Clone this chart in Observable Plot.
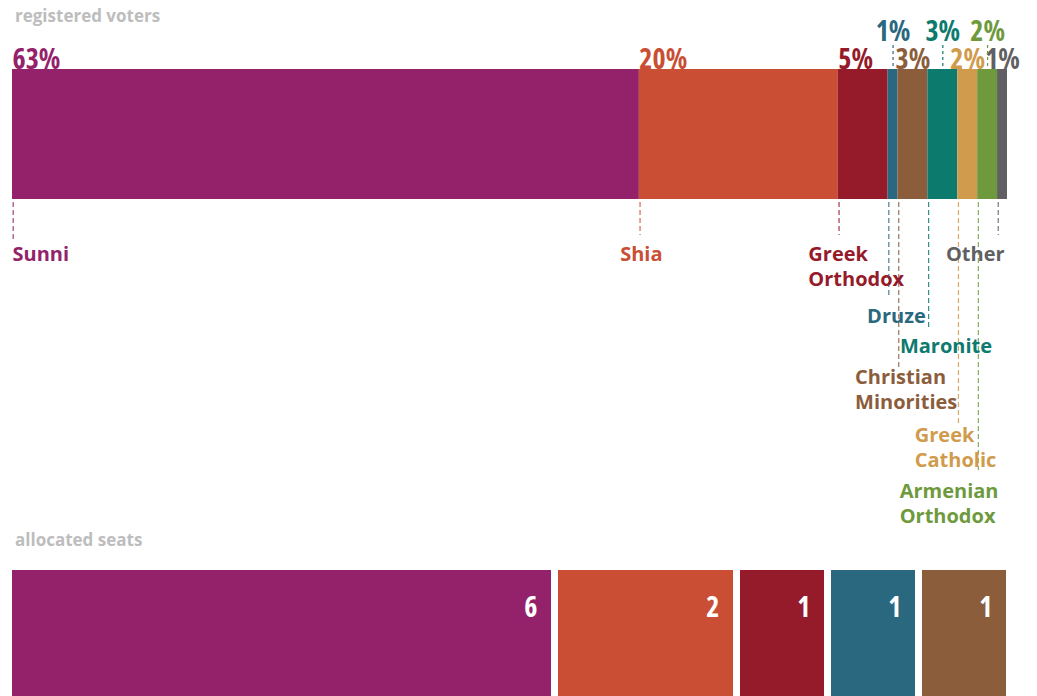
<!DOCTYPE html>
<html><head><meta charset="utf-8">
<script src="https://cdn.jsdelivr.net/npm/d3@7"></script>
<script src="https://cdn.jsdelivr.net/npm/@observablehq/plot@0.6"></script>
<style>
html,body{margin:0;padding:0;background:#fff;overflow:hidden;width:1037px;height:696px;}
#wrap{position:relative;width:1037px;height:696px;font-family:"Open Sans",sans-serif;}
.title{position:absolute;left:15px;font-size:17px;font-weight:700;color:#bdbdbd;line-height:17px;white-space:nowrap;}
.chart{position:absolute;left:0;}
g[font-size="28"]{font-stretch:75%;}
</style></head><body>
<div id="wrap">
  <div class="title" style="top:7px">registered voters</div>
  <div class="chart" id="top" style="top:0px"></div>
  <div class="title" style="top:531px">allocated seats</div>
  <div class="chart" id="bottom" style="top:555px"></div>
</div>
<script>
// ---- data ----
const groups = ["Sunni","Shia","Greek Orthodox","Druze","Christian Minorities","Maronite","Greek Catholic","Armenian Orthodox","Other"];
const voterShare = [63,20,5,1,3,3,2,2,1];
const seatGroups = ["Sunni","Shia","Greek Orthodox","Druze","Christian Minorities"];
const seatCounts = [6,2,1,1,1];

// ---- style ----
const palette = ["#93226b","#c94e33","#951a2a","#2a6880","#8b5d3b","#0d7a6e","#d09b4c","#6e9a3d","#606062"];
const wrapNames = new Set(["Greek Orthodox","Christian Minorities","Greek Catholic","Armenian Orthodox"]);
// annotation layout (px): text anchor, dx from segment left edge, cap-top of label, leader end
const nameLayout = {
  "Sunni":                {anchor:"start",  dx:0,   top:242, end:240},
  "Shia":                 {anchor:"middle", dx:2,   top:242, end:235},
  "Greek Orthodox":       {anchor:"start",  dx:-30, top:242, end:235},
  "Druze":                {anchor:"start",  dx:-21, top:304, end:295},
  "Christian Minorities": {anchor:"start",  dx:-43, top:365, end:368},
  "Maronite":             {anchor:"start",  dx:-28, top:334, end:327},
  "Greek Catholic":       {anchor:"start",  dx:-43, top:423, end:423},
  "Armenian Orthodox":    {anchor:"start",  dx:-78, top:479, end:470},
  "Other":                {anchor:"end",    dx:7,   top:242, end:235}
};

const W = 1037;
const barTop = 69, barBottom = 199, H1 = 530;

// ---- top chart table ----
let acc = 0, k = 0;
const voters = groups.map((g, i) => {
  const d = {group: g, share: voterShare[i], x1: acc, x2: acc + voterShare[i]};
  d.mid = (d.x1 + d.x2) / 2;
  acc += voterShare[i];
  d.big = d.share >= 5;
  d.raised = false;
  if (!d.big) { d.raised = (k % 2 === 0); k++; }
  return d;
});

const pctFont = {fontFamily: "'Open Sans', sans-serif", fontSize: 28, fontWeight: 700, lineAnchor: "bottom", frameAnchor: "top"};
const topMarks = [
  Plot.barX(voters, {x1: "x1", x2: "x2", fill: "group"}),
  Plot.text(voters.filter(d => d.big), {...pctFont, x: "x1", text: d => d.share + "%", fill: "group", textAnchor: "start", dy: -1}),
  Plot.text(voters.filter(d => !d.big && !d.raised), {...pctFont, x: "mid", text: d => d.share + "%", fill: "group", textAnchor: "middle", dy: -1}),
  Plot.text(voters.filter(d => d.raised), {...pctFont, x: "mid", text: d => d.share + "%", fill: "group", textAnchor: "middle", dy: -29}),
  Plot.ruleX(voters.filter(d => d.raised), {x: "mid", stroke: "group", strokeWidth: 1.2, strokeDasharray: "3,3", insetTop: -24, insetBottom: barBottom - 67})
];
voters.forEach(d => {
  const L = nameLayout[d.group];
  topMarks.push(Plot.ruleX([d], {x: "x1", dx: 0.7, stroke: "group", strokeWidth: 1.2, strokeOpacity: 0.85, strokeDasharray: "5,3",
    insetTop: 202 - barTop, insetBottom: barBottom - L.end}));
});
voters.forEach(d => {
  const L = nameLayout[d.group];
  topMarks.push(Plot.text([d], {x: "x1", dx: L.dx, textAnchor: L.anchor,
    text: d => wrapNames.has(d.group) ? d.group.replace(" ", "\n") : d.group,
    fill: "group", frameAnchor: "bottom", lineAnchor: "top", dy: L.top - barBottom,
    fontFamily: "'Open Sans', sans-serif", fontSize: 20, fontWeight: 700, lineHeight: 1.27}));
});

const topChart = Plot.plot({
  width: W, height: H1,
  marginTop: barTop, marginBottom: H1 - barBottom, marginLeft: 12, marginRight: 30,
  x: {domain: [0, 100], axis: null},
  color: {domain: groups, range: palette},
  style: {background: "transparent", overflow: "visible"},
  marks: topMarks
});
document.getElementById("top").appendChild(topChart);

// ---- bottom chart ----
let acc2 = 0;
const seatRows = seatGroups.map((g, i) => {
  const d = {group: g, seats: seatCounts[i], x1: acc2, x2: acc2 + seatCounts[i]};
  acc2 += seatCounts[i];
  return d;
});
const bottomChart = Plot.plot({
  width: W, height: 141,
  marginTop: 15, marginBottom: 0, marginLeft: 12, marginRight: 24,
  x: {domain: [0, 11], axis: null},
  color: {domain: groups, range: palette},
  style: {background: "transparent"},
  marks: [
    Plot.barX(seatRows, {x1: "x1", x2: "x2", fill: "group", insetRight: 7}),
    Plot.text(seatRows, {x: "x2", text: d => String(d.seats), frameAnchor: "top", lineAnchor: "top", dy: 27, dx: -21,
      textAnchor: "end", fill: "white", fontFamily: "'Open Sans', sans-serif", fontSize: 28, fontWeight: 700})
  ]
});
document.getElementById("bottom").appendChild(bottomChart);
</script>
</body></html>
